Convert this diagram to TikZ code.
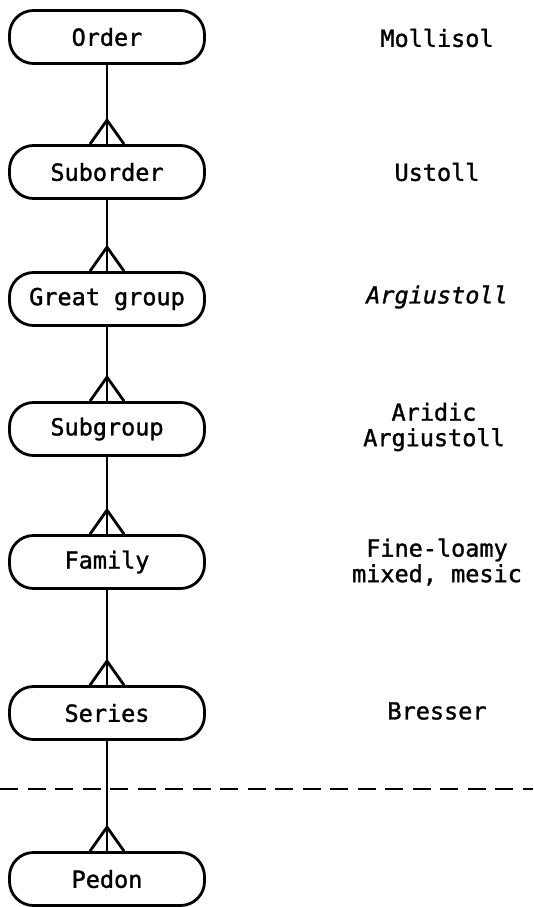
\documentclass[tikz,border=0pt]{standalone}
\usepackage{fontspec}
\setmonofont[FakeBold=1.3]{DejaVu Sans Mono}
\begin{document}
\begin{tikzpicture}[x=1pt,y=-1pt,line width=2.8pt,
  box/.style={draw, rounded corners=24pt, minimum width=195pt, minimum height=53pt,
    inner sep=0pt, font=\ttfamily\fontsize{23.5}{26}\selectfont},
  lab/.style={align=center, inner sep=0pt, font=\ttfamily\fontsize{23.5}{25.5}\selectfont}]
\useasboundingbox (0,0) rectangle (533,907);
\node[box] (order) at (107,37) {Order};
\node[box] (suborder) at (107,172) {Suborder};
\node[box] (great) at (107,299) {Great group};
\node[box] (subgroup) at (107,429) {Subgroup};
\node[box] (family) at (107,562) {Family};
\node[box] (series) at (107,713) {Series};
\node[box] (pedon) at (107,879) {Pedon};
\foreach \a/\b in {order/suborder,suborder/great,great/subgroup,subgroup/family,family/series,series/pedon}{
  \draw (\a.south) -- (\b.north);
  \draw ([xshift=-17pt]\b.north) -- ([yshift=24pt]\b.north) -- ([xshift=17pt]\b.north);
}
\coordinate (dl) at (0,789);
\coordinate (dr) at (533,789);
\draw[line width=2.5pt, dash pattern=on 18pt off 9.5pt] (dl) -- (dr);
\node[lab] (l1) at (437,38) {Mollisol};
\node[lab] (l2) at (437,172) {Ustoll};
\node[lab] (l3) at (437,297) {\itshape Argiustoll};
\node[lab] (l4) at (434,427) {Aridic\\Argiustoll};
\node[lab] (l5) at (437,562) {Fine-loamy\\mixed, mesic};
\node[lab] (l6) at (437,711) {Bresser};
\end{tikzpicture}
\end{document}
